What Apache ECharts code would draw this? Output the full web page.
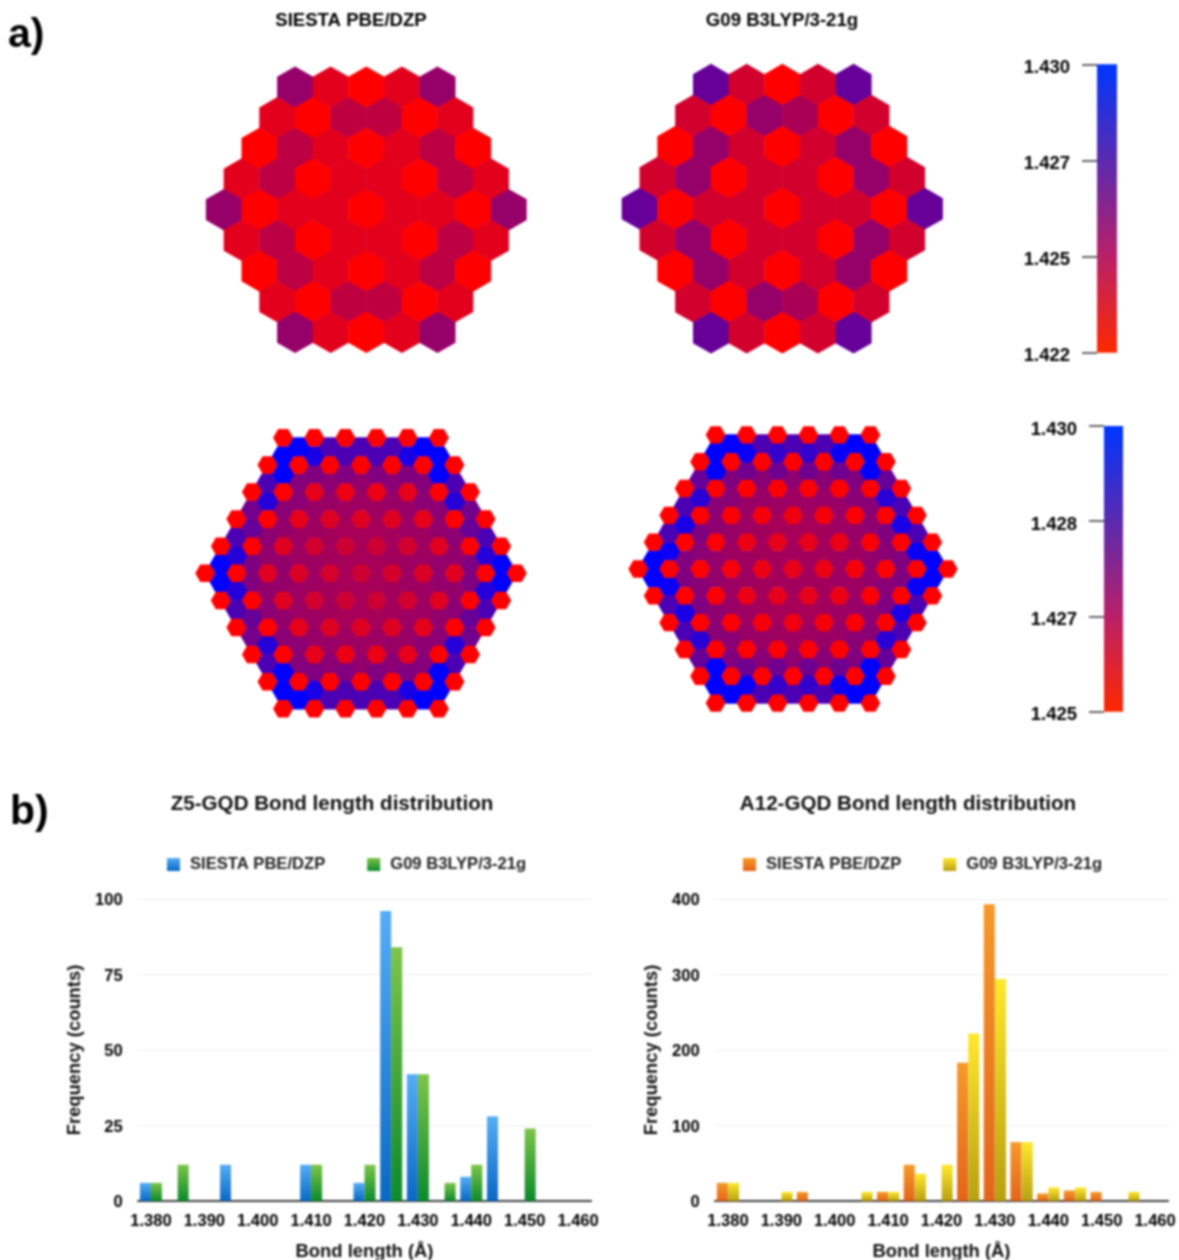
<!DOCTYPE html>
<html><head><meta charset="utf-8">
<style>html,body{margin:0;padding:0;background:#fff}#c{width:1179px;height:1260px}#c canvas{filter:blur(0.8px)}</style>
<script src="https://cdn.jsdelivr.net/npm/echarts@6/dist/echarts.min.js"></script>
</head><body><div id="c"></div>
<script>
// ---------- DATA ----------
const methodA = 'SIESTA PBE/DZP', methodB = 'G09 B3LYP/3-21g';
const z5SiestaRows = [
 [1.4253,1.4229,1.4220,1.4229,1.4253],
 [1.4229,1.4220,1.4240,1.4240,1.4220,1.4229],
 [1.4220,1.4241,1.4229,1.4220,1.4229,1.4241,1.4220],
 [1.4229,1.4241,1.4220,1.4229,1.4229,1.4220,1.4241,1.4229],
 [1.4253,1.4220,1.4229,1.4229,1.4220,1.4229,1.4229,1.4220,1.4253],
 [1.4229,1.4241,1.4220,1.4229,1.4229,1.4220,1.4241,1.4229],
 [1.4220,1.4241,1.4229,1.4220,1.4229,1.4241,1.4220],
 [1.4229,1.4220,1.4240,1.4240,1.4220,1.4229],
 [1.4253,1.4229,1.4220,1.4229,1.4253]
];
const z5G09Rows = [
 [1.4268,1.4234,1.4220,1.4234,1.4268],
 [1.4234,1.4220,1.4253,1.4247,1.4220,1.4234],
 [1.4220,1.4253,1.4234,1.4220,1.4234,1.4253,1.4220],
 [1.4234,1.4253,1.4220,1.4234,1.4234,1.4220,1.4253,1.4234],
 [1.4268,1.4220,1.4234,1.4234,1.4220,1.4234,1.4234,1.4220,1.4268],
 [1.4234,1.4253,1.4220,1.4234,1.4234,1.4220,1.4253,1.4234],
 [1.4220,1.4253,1.4234,1.4220,1.4234,1.4253,1.4220],
 [1.4234,1.4220,1.4253,1.4247,1.4220,1.4234],
 [1.4268,1.4234,1.4220,1.4234,1.4268]
];
// A12 map: one quarter of the flake, row by row from the middle outwards
const a12SiestaRows = [
 [1.4260,1.42585,1.42575,1.4256,1.4250,1.4250],
 [1.42675,1.4269,1.4271,1.4275,1.4300],
 [1.42675,1.4268,1.4269,1.4271,1.42925],
 [1.4260,1.4259,1.4256,1.4250,1.4250],
 [1.42675,1.4268,1.4269,1.42725,1.4285],
 [1.42675,1.4269,1.4271,1.4280],
 [1.42565,1.42565,1.4255,1.4250,1.4250],
 [1.4269,1.4270,1.42725,1.42775],
 [1.4269,1.4270,1.42725,1.42925],
 [1.4254,1.4255,1.4250,1.4250],
 [1.4271,1.42725,1.4274,1.4285],
 [1.4275,1.4275,1.4300],
 [1.4250,1.4250,1.4250,1.4250],
 [1.4285,1.4295,1.4300],
 [1.4285,1.4285,1.4300],
 [1.4250,1.4250,1.4250]
];
const a12G09Rows = [
 [1.4255,1.4254,1.4252,1.4250,1.4250,1.4250],
 [1.4268,1.4269,1.4271,1.4275,1.4300],
 [1.4268,1.4268,1.4269,1.4273,1.4298],
 [1.4255,1.4254,1.4251,1.4250,1.4250],
 [1.42675,1.4268,1.4270,1.4275,1.4285],
 [1.42675,1.4269,1.4272,1.4295],
 [1.4253,1.4252,1.4251,1.4250,1.4250],
 [1.4269,1.4270,1.4273,1.4285],
 [1.4269,1.4270,1.4273,1.4292],
 [1.4251,1.4250,1.4250,1.4250],
 [1.4272,1.4273,1.4275,1.4280],
 [1.4278,1.4278,1.4300],
 [1.4250,1.4250,1.4250,1.4250],
 [1.4290,1.4298,1.4300],
 [1.4285,1.4285,1.4300],
 [1.4250,1.4250,1.4250]
];
const scaleTicksTop = ['1.422','1.425','1.427','1.430'];
const scaleTicksBottom = ['1.425','1.427','1.428','1.430'];
const bondBins = ['1.380','1.385','1.390','1.395','1.400','1.405','1.410','1.415','1.420','1.425','1.430','1.435','1.440','1.445','1.450','1.455','1.460'];
const z5Siesta = [6,0,0,12,0,0,12,0,6,96,42,0,8,28,0,0,0];
const z5G09    = [6,12,0,0,0,0,12,0,12,84,42,6,12,0,24,0,0];
const a12Siesta= [24,0,0,12,0,0,12,48,0,183,393,78,10,14,12,0,0];
const a12G09   = [24,0,12,0,0,12,12,36,48,222,294,78,18,18,0,12,0];

// ---------- HELPERS ----------
const FONT = '"Liberation Sans", Arial, sans-serif';
const grad = (a, b) => ({type:'linear',x:0,y:0,x2:0,y2:1,colorStops:[{offset:0,color:a},{offset:1,color:b}]});
const blue = grad('#55adf5','#0a68c6'), green = grad('#7cc549','#0c8a2c');
const orange = grad('#f59a2a','#e4641a'), yellow = grad('#ffe82c','#b8a012');
const scaleGrad = {type:'linear',x:0,y:0,x2:0,y2:1,colorStops:[
 {offset:0,color:'#0036ff'},{offset:.33,color:'#5a2ab0'},{offset:.66,color:'#b8206a'},{offset:1,color:'#ff2800'}]};

function pointyData(rows){
  const out = [];
  rows.forEach((r,k)=>r.forEach((v,n)=>out.push([n*2-(r.length-1), (rows.length-1)/2-k, v])));
  return out;
}
function flatData(rows){
  const others = [], reds = [];
  rows.forEach((r,j)=>r.forEach((v,n)=>{
    const i = n*2 + (j%2);
    const bucket = j%3===0 ? reds : others;
    [i,-i].filter((x,q)=>q===0||i!==0).forEach(x=>{
      [j,-j].filter((y,q)=>q===0||j!==0).forEach(y=>bucket.push([x,y,v]));
    });
  }));
  return others.concat(reds);
}
const pointyShape = [[1,1/3],[0,2/3],[-1,1/3],[-1,-1/3],[0,-2/3],[1,-1/3]];
const flatShape = [[2/3,0],[1/3,1],[-1/3,1],[-2/3,0],[-1/3,-1],[1/3,-1]];
function hexRender(shape, flat){
  return function(params, api){
    const x = api.value(0), y = api.value(1);
    const s = flat ? (Math.abs(y)%3===0 ? .97 : 1.08) : 1.012;
    return {type:'polygon',
      shape:{points:shape.map(p=>api.coord([x+p[0]*s,y+p[1]*s]))},
      style:{fill:api.visual('color'),stroke:null,lineWidth:0}};
  };
}

// ---------- LAYOUT ----------
const grids=[], xAxes=[], yAxes=[], series=[];
function addGrid(g,x,y){ grids.push(Object.assign({outerBoundsMode:'none'},g)); xAxes.push(Object.assign({gridIndex:grids.length-1},x)); yAxes.push(Object.assign({gridIndex:grids.length-1},y)); return grids.length-1; }
function hexMap(data, flat, cx, cy, ux, uy, xr, yr){
  const idx = addGrid({left:cx-xr*ux,top:cy-yr*uy,width:2*xr*ux,height:2*yr*uy},
    {type:'value',min:-xr,max:xr,show:false},{type:'value',min:-yr,max:yr,show:false});
  series.push({type:'custom',xAxisIndex:idx,yAxisIndex:idx,clip:false,silent:true,
    renderItem:hexRender(flat?flatShape:pointyShape,flat),encode:{x:0,y:1},data});
}
hexMap(pointyData(z5SiestaRows),false,366.3,209.7,17.8,30.65,10,5);
hexMap(pointyData(z5G09Rows),false,782.3,208.7,17.82,31,10,5);
hexMap(flatData(a12SiestaRows),true,361,573.3,15.57,9.03,11,17);
hexMap(flatData(a12G09Rows),true,793,569,15.47,8.94,11,17);

function colorScale(ticks,left,width,top,height){
  const idx = addGrid({left,top,width,height},
    {type:'value',min:0,max:1,show:false},
    {type:'category',data:ticks,boundaryGap:false,
     axisLine:{show:false},axisTick:{show:true,length:15,alignWithLabel:true,lineStyle:{color:'#333',width:1.5}},
     axisLabel:{show:true,margin:27,interval:0,fontFamily:FONT,fontWeight:'bold',fontSize:18.5,color:'#000',verticalAlign:'top',lineHeight:7}});
  series.push({type:'custom',xAxisIndex:idx,yAxisIndex:idx,clip:false,silent:true,encode:{x:0,y:1},
    renderItem:(p,api)=>{const a=api.coord([0,ticks.length-1]),b=api.coord([1,0]);
      return {type:'rect',shape:{x:a[0],y:a[1],width:b[0]-a[0],height:b[1]-a[1]},style:{fill:scaleGrad}};},
    data:[[0,0]]});
}
colorScale(scaleTicksTop,1097,20,64.3,288.4);
colorScale(scaleTicksBottom,1104,19,426,285.7);

function histogram(left,maxY,intervalY,a,b,colA,colB,gap){
  const lab = {fontFamily:FONT,fontWeight:'bold',fontSize:16.5,color:'#000'};
  const name = {fontFamily:FONT,fontWeight:'bold',fontSize:18.4,color:'#111'};
  const idx = addGrid({left,width:453.8,top:899,height:302},
    {type:'category',data:bondBins,axisTick:{show:false},
     axisLine:{lineStyle:{color:'#000',width:1.5}},
     axisLabel:Object.assign({interval:1,margin:12},lab),
     name:'Bond length (Å)',nameLocation:'middle',nameGap:42,nameTextStyle:name},
    {type:'value',min:0,max:maxY,interval:intervalY,
     axisLine:{show:false},axisTick:{show:false},
     splitLine:{lineStyle:{color:'#eeeeee',width:1}},
     axisLabel:Object.assign({margin:15,verticalAlign:'top',lineHeight:3},lab),
     name:'Frequency (counts)',nameLocation:'middle',nameGap:54,nameTextStyle:name});
  series.push({type:'bar',name:methodA,xAxisIndex:idx,yAxisIndex:idx,data:a,barWidth:11,barGap:gap,itemStyle:{color:colA}});
  series.push({type:'bar',name:methodB,xAxisIndex:idx,yAxisIndex:idx,data:b,barWidth:11,barGap:gap,itemStyle:{color:colB}});
}
histogram(137.6,100,25,z5Siesta,z5G09,blue,green,'0%');
histogram(714.6,400,100,a12Siesta,a12G09,orange,yellow,'2%');

const legendText = {fontFamily:FONT,fontWeight:'bold',fontSize:16.6,color:'#222',padding:[0,0,0,5]};
const legend = (left,c1,c2)=>({left,top:851,itemWidth:13,itemHeight:13,itemGap:42,icon:'rect',selectedMode:false,textStyle:legendText,
  data:[{name:methodA,itemStyle:{color:c1}},{name:methodB,itemStyle:{color:c2}}]});

const T=(text,left,top,size,color,align)=>({text,left,top,textAlign:align||'center',textStyle:{fontFamily:FONT,fontWeight:'bold',fontSize:size,color}});
const titles=[
 T('a)',3,10,41,'#000','left'), T('b)',5,787,41,'#000','left'),
 T(methodA,346,6,18.6,'#000'), T(methodB,777,6,18.6,'#000'),
 T('Z5-GQD Bond length distribution',327,789,20.6,'#111'),
 T('A12-GQD Bond length distribution',903,789,20.6,'#111')
];

const chart = echarts.init(document.getElementById('c'),null,{renderer:'canvas'});
chart.setOption({
  animation:false,backgroundColor:'#fff',
  title:titles,
  legend:[legend(162,blue,green),legend(738,orange,yellow)],
  grid:grids,xAxis:xAxes,yAxis:yAxes,series,
  visualMap:[
   {type:'continuous',show:false,seriesIndex:[0,1],dimension:2,min:1.422,max:1.430,inRange:{color:['#ff0000','#0000ff']}},
   {type:'continuous',show:false,seriesIndex:[2,3],dimension:2,min:1.425,max:1.430,inRange:{color:['#ff0000','#0000ff']}}
  ]
});
</script></body></html>
